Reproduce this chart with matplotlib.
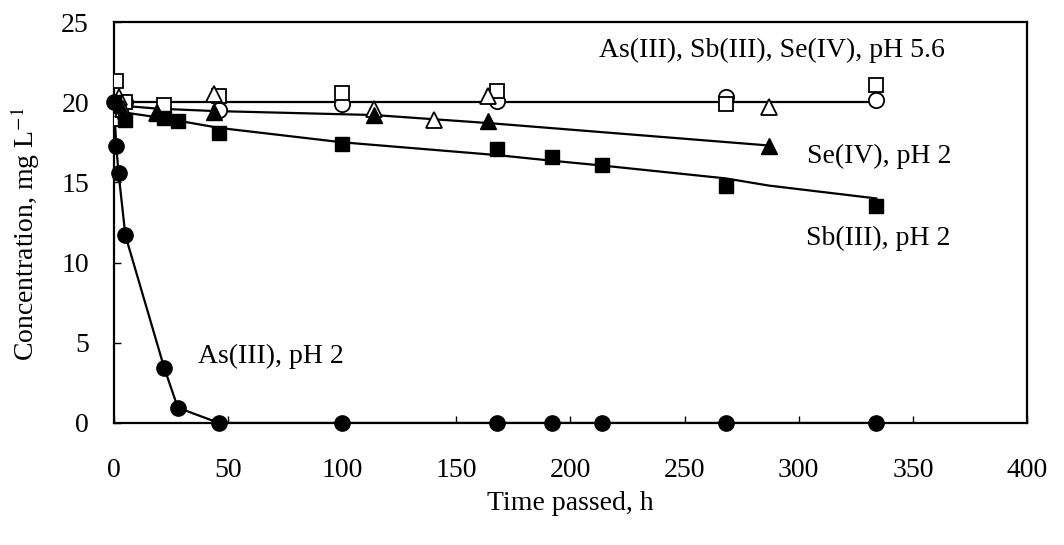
import matplotlib
matplotlib.use("Agg")
import matplotlib.pyplot as plt

plt.rcParams['font.family'] = ['Liberation Serif', 'DejaVu Serif']
plt.rcParams['mathtext.fontset'] = 'stix'

# ---- data ----
# As(III), pH 2 (filled circles)
as2_t = [0, 1, 2, 5, 22, 28, 46, 100, 168, 192, 214, 268, 334]
as2_c = [20.0, 17.3, 15.6, 11.7, 3.45, 0.95, 0, 0, 0, 0, 0, 0, 0]

# Sb(III), pH 2 (filled squares)
sb2_t = [0, 5, 22, 28, 46, 100, 168, 192, 214, 268, 334]
sb2_c = [20.0, 18.9, 19.0, 18.8, 18.1, 17.4, 17.1, 16.6, 16.1, 14.8, 13.5]
sb2_fit_t = [0, 5, 22, 28, 46, 100, 168, 192, 214, 268, 287, 334]
sb2_fit_c = [19.8, 19.35, 19.0, 18.85, 18.4, 17.5, 16.7, 16.35, 16.05, 15.25, 14.8, 14.0]

# Se(IV), pH 2 (filled triangles)
se2_t = [0, 2, 19, 44, 114, 164, 287]
se2_c = [20.0, 19.8, 19.3, 19.4, 19.2, 18.8, 17.3]
se2_fit_t = [0, 2, 19, 44, 114, 164, 287]
se2_fit_c = [20.0, 19.8, 19.6, 19.45, 19.2, 18.7, 17.3]

# pH 5.6 series
as56_t = [0, 2, 5, 46, 100, 168, 268, 334]
as56_c = [20.0, 20.0, 20.0, 19.5, 19.9, 20.1, 20.35, 20.15]
sb56_t = [0, 1, 5, 22, 46, 100, 168, 268, 334]
sb56_c = [20.0, 21.3, 20.0, 19.8, 20.4, 20.6, 20.7, 19.9, 21.1]
se56_t = [0, 2, 4, 19, 44, 114, 140, 164, 287]
se56_c = [19.0, 20.3, 19.6, 19.3, 20.5, 19.6, 18.9, 20.4, 19.7]
ph56_fit_t = [0, 334]
ph56_fit_c = [20.0, 20.0]

xticks = [0, 50, 100, 150, 200, 250, 300, 350, 400]
yticks = [0, 5, 10, 15, 20, 25]

# ---- figure ----
fig = plt.figure(figsize=(10.64, 5.45), dpi=100)
ax = fig.add_axes([0.1071, 0.2239, 0.8581, 0.7357])

lw = 1.6
mew = 1.3
fs = 20

# fitted / connecting lines
ax.plot(ph56_fit_t, ph56_fit_c, color='black', lw=lw, zorder=2)
ax.plot(se2_fit_t, se2_fit_c, color='black', lw=lw, zorder=2)
ax.plot(sb2_fit_t, sb2_fit_c, color='black', lw=lw, zorder=2)
ax.plot(as2_t, as2_c, color='black', lw=lw, zorder=2)

# markers
ax.plot(as56_t, as56_c, 'o', ms=11, mfc='white', mec='black', mew=mew, ls='none', zorder=3)
ax.plot(sb56_t, sb56_c, 's', ms=10.5, mfc='white', mec='black', mew=mew, ls='none', zorder=3)
ax.plot(se56_t, se56_c, '^', ms=11.5, mfc='white', mec='black', mew=mew, ls='none', zorder=3)
ax.plot(se2_t, se2_c, '^', ms=11, mfc='black', mec='black', ls='none', zorder=4)
ax.plot(sb2_t, sb2_c, 's', ms=10, mfc='black', mec='black', ls='none', zorder=4)
ax.plot(as2_t, as2_c, 'o', ms=11, mfc='black', mec='black', ls='none', zorder=5, clip_on=False)

ax.set_xlim(0, 400)
ax.set_ylim(0, 25)
ax.set_xticks(xticks)
ax.set_yticks(yticks)
ax.tick_params(direction='in', length=5, width=1, labelsize=fs)
ax.tick_params(axis='x', pad=25)
ax.tick_params(axis='y', pad=18)
for s in ax.spines.values():
    s.set_linewidth(1.6)

ax.set_xlabel('Time passed, h', fontsize=fs)
ax.xaxis.set_label_coords(0.5, -0.17)
ax.set_ylabel(r'Concentration, mg L$^{-1}$', fontsize=fs, va='center')
ax.yaxis.set_label_coords(-0.097, 0.47)

ax.text(288.1, 23.25, 'As(III), Sb(III), Se(IV), pH 5.6', fontsize=fs, va='center', ha='center')
ax.text(335.2, 16.6, 'Se(IV), pH 2', fontsize=fs, va='center', ha='center')
ax.text(334.9, 11.5, 'Sb(III), pH 2', fontsize=fs, va='center', ha='center')
ax.text(68.7, 4.13, 'As(III), pH 2', fontsize=fs, va='center', ha='center')

fig.savefig('out.png', dpi=100)
